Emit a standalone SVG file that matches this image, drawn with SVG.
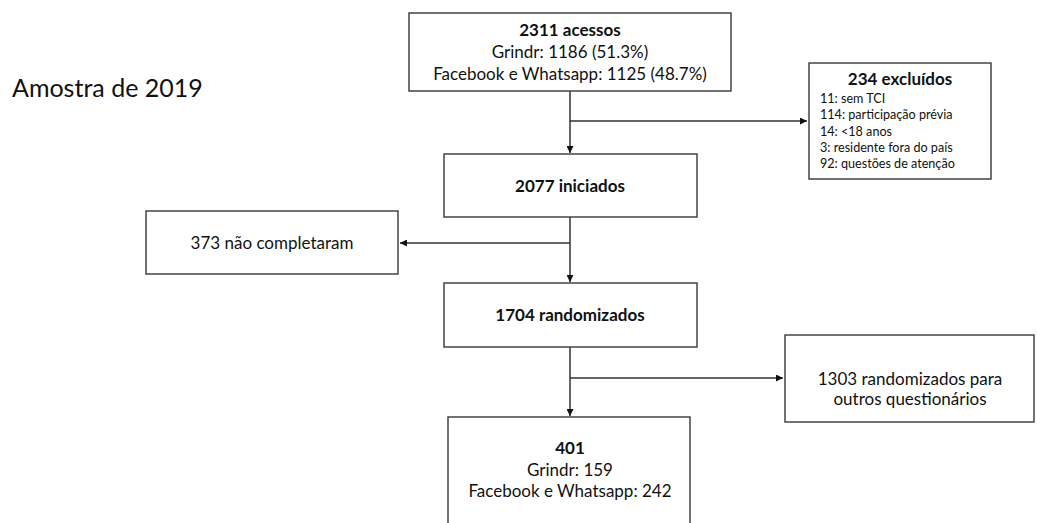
<svg xmlns="http://www.w3.org/2000/svg" width="1037" height="523" viewBox="0 0 1037 523">
<style>
text{font-family:Lato,"Liberation Sans",sans-serif;fill:#111;}
.m{font-size:17px;text-anchor:middle;}
.b{font-weight:bold;}
.s{font-size:12.6px;}
.box{fill:#fff;stroke:#444;stroke-width:1.5;}
.ln{fill:none;stroke:#333;stroke-width:1.5;}
</style>
<defs>
<marker id="ah" viewBox="0 0 10 10" refX="10" refY="5" markerWidth="7" markerHeight="7" markerUnits="userSpaceOnUse" orient="auto"><path d="M0,0 L10,5 L0,10 z" fill="#111"/></marker>
</defs>
<rect width="1037" height="523" fill="#fff"/>
<text x="12" y="97" style="font-size:25px">Amostra de 2019</text>
<g id="connectors">
<path class="ln" d="M570,91 V153" marker-end="url(#ah)"/>
<path class="ln" d="M570,121 H807" marker-end="url(#ah)"/>
<path class="ln" d="M570,217 V282" marker-end="url(#ah)"/>
<path class="ln" d="M570,243 H400" marker-end="url(#ah)"/>
<path class="ln" d="M570,347 V416" marker-end="url(#ah)"/>
<path class="ln" d="M570,378 H783" marker-end="url(#ah)"/>
</g>
<g id="acessos">
<rect class="box" x="409" y="13" width="322" height="78"/>
<text class="m b" x="570" y="36">2311 acessos</text>
<text class="m" x="570" y="58">Grindr: 1186 (51.3%)</text>
<text class="m" x="570" y="80">Facebook e Whatsapp: 1125 (48.7%)</text>
</g>
<g id="excluidos">
<rect class="box" x="809" y="63" width="182" height="116"/>
<text class="m b" x="900" y="85" style="font-size:17px">234 excluídos</text>
<text class="s" x="820" y="103">11: sem TCI</text>
<text class="s" x="820" y="119">114: participação prévia</text>
<text class="s" x="820" y="136">14: &lt;18 anos</text>
<text class="s" x="820" y="152">3: residente fora do país</text>
<text class="s" x="820" y="168">92: questões de atenção</text>
</g>
<g id="iniciados">
<rect class="box" x="444" y="154" width="253" height="63"/>
<text class="m b" x="570" y="192">2077 iniciados</text>
</g>
<g id="nao-completaram">
<rect class="box" x="146" y="211" width="252" height="63"/>
<text class="m" x="272" y="249">373 não completaram</text>
</g>
<g id="randomizados">
<rect class="box" x="444" y="283" width="253" height="64"/>
<text class="m b" x="570" y="321">1704 randomizados</text>
</g>
<g id="outros">
<rect class="box" x="785" y="335" width="249" height="87"/>
<text class="m" x="910" y="385">1303 randomizados para</text>
<text class="m" x="910" y="405">outros questionários</text>
</g>
<g id="final">
<rect class="box" x="448" y="417" width="242" height="120"/>
<text class="m b" x="570" y="454">401</text>
<text class="m" x="570" y="476">Grindr: 159</text>
<text class="m" x="570" y="497">Facebook e Whatsapp: 242</text>
</g>
</svg>
